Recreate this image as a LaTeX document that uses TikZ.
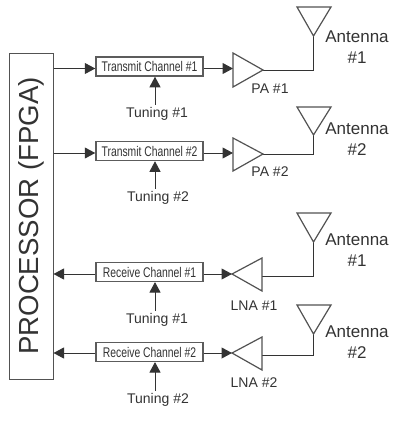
\documentclass[tikz,border=0pt]{standalone}
\usepackage{fontspec}
\setmainfont{Liberation Sans}
\newfontfamily\condfont[FakeStretch=0.74]{Liberation Sans}
\usetikzlibrary{arrows.meta}
\definecolor{ink}{HTML}{333333}
\tikzset{
  wire/.style={draw=ink,line width=1pt,line join=miter},
  feed/.style={wire,-{Triangle[length=10.5pt,width=11pt]}},
  procbox/.style={draw=ink!85,line width=1pt,fill=white,minimum width=44pt,minimum height=326pt,inner sep=0pt},
  txbox/.style={draw=ink!80,line width=1.5pt,fill=white,minimum width=107pt,minimum height=19pt,inner sep=0pt,text=ink,font=\condfont\fontsize{14}{14}\selectfont},
  rxbox/.style={txbox,line width=1.1pt},
  lab/.style={text=ink,inner sep=0pt,align=center},
  tunelab/.style={lab,font=\fontsize{14}{14}\selectfont},
  antlab/.style={lab,font=\fontsize{17}{21}\selectfont},
  amplab/.style={lab,font=\fontsize{14}{14}\selectfont},
  symbol/.style={draw=ink!85,line width=1.2pt,line join=miter},
}
\begin{document}
\begin{tikzpicture}[x=1pt,y=-1pt]
\useasboundingbox (0,0) rectangle (400,423);
% processor
\node[procbox] (proc) at (31,216) {};
\node[lab,rotate=90,font=\fontsize{27.6}{27.6}\selectfont] (proctext) at (31,216) {PROCESSOR (FPGA)};
% channel boxes
\node[txbox] (tx1) at (149.5,66.5) {Transmit Channel \#1};
\node[txbox] (tx2) at (149.5,151) {Transmit Channel \#2};
\node[rxbox] (rx1) at (149.5,272) {Receive Channel \#1};
\node[rxbox] (rx2) at (149.5,352) {Receive Channel \#2};
% tuning labels
\node[tunelab] (t1) at (157,113.5) {Tuning \#1};
\node[tunelab] (t2) at (158,197.5) {Tuning \#2};
\node[tunelab] (t3) at (157,319.5) {Tuning \#1};
\node[tunelab] (t4) at (158,399.5) {Tuning \#2};
\coordinate (c1) at ([yshift=2pt]155,0 |- t1.north);
\coordinate (c2) at ([yshift=2pt]155,0 |- t2.north);
\coordinate (c3) at ([yshift=2pt]155,0 |- t3.north);
\coordinate (c4) at ([yshift=2pt]155,0 |- t4.north);
\draw[feed] (c1) -- (c1 |- tx1.south);
\draw[feed] (c2) -- (c2 |- tx2.south);
\draw[feed] (c3) -- (c3 |- rx1.south);
\draw[feed] (c4) -- (c4 |- rx2.south);
% amplifier corners
\coordinate (pa1in) at (233,69);
\coordinate (pa1out) at (263,70);
\coordinate (pa2in) at (233,153);
\coordinate (pa2out) at (263,154);
\coordinate (lna1in) at (262,276);
\coordinate (lna1out) at (232,274);
\coordinate (lna2in) at (262,355);
\coordinate (lna2out) at (232,353);
% antenna feed points
\coordinate (ant1) at (313.5,36);
\coordinate (ant2) at (313.5,135);
\coordinate (ant3) at (313.5,242);
\coordinate (ant4) at (313.5,334);
% connectors
\coordinate (p1) at (proc.east |- 0,68.5);
\coordinate (p2) at (proc.east |- 0,153);
\coordinate (a1) at (tx1.east |- 0,68.5);
\coordinate (a2) at (tx2.east |- 0,153);
\coordinate (r1) at (rx1.west |- 0,274);
\coordinate (r2) at (rx2.west |- 0,353);
\coordinate (b1) at (rx1.east |- 0,274);
\coordinate (b2) at (rx2.east |- 0,353);
\draw[feed] (p1) -- (p1 -| tx1.west);
\draw[feed] (p2) -- (p2 -| tx2.west);
\draw[feed] (a1) -- (a1 -| pa1in);
\draw[feed] (a2) -- (a2 -| pa2in);
\draw[feed] (r1) -- (r1 -| proc.east);
\draw[feed] (r2) -- (r2 -| proc.east);
\draw[feed] (b1) -- (lna1out);
\draw[feed] (b2) -- (lna2out);
\draw[wire] (pa1out) -| (ant1);
\draw[wire] (pa2out) -| (ant2);
\draw[wire] (lna1in) -| (ant3);
\draw[wire] (lna2in) -| (ant4);
% amplifiers
\draw[symbol] (233,53) -- (233,87) -- (pa1out) -- cycle;
\draw[symbol] (233,138) -- (233,171) -- (pa2out) -- cycle;
\draw[symbol] (262,258) -- (262,291) -- (lna1out) -- cycle;
\draw[symbol] (262,337) -- (262,370) -- (lna2out) -- cycle;
% antennas
\draw[symbol] (297,7) -- (331,7) -- (ant1) -- cycle;
\draw[symbol] (297,107) -- (331,107) -- (ant2) -- cycle;
\draw[symbol] (297,213) -- (331,213) -- (ant3) -- cycle;
\draw[symbol] (297,305) -- (331,305) -- (ant4) -- cycle;
% labels
\node[antlab] (al1) at (357,47.5) {Antenna\\\#1};
\node[antlab] (al2) at (357,139.5) {Antenna\\\#2};
\node[antlab] (al3) at (357,250) {Antenna\\\#1};
\node[antlab] (al4) at (357,342.5) {Antenna\\\#2};
\node[amplab] (pl1) at (270,88.5) {PA \#1};
\node[amplab] (pl2) at (270,172) {PA \#2};
\node[amplab] (ll1) at (254,306) {LNA \#1};
\node[amplab] (ll2) at (254,382.5) {LNA \#2};
\end{tikzpicture}
\end{document}
